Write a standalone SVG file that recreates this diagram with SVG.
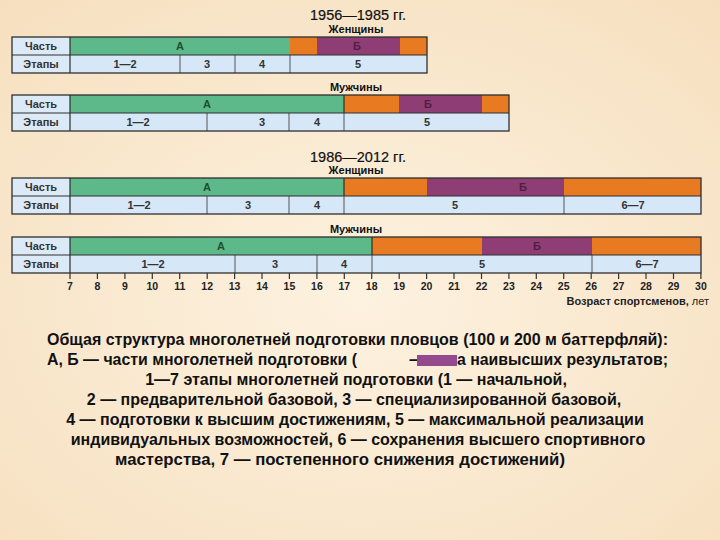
<svg xmlns="http://www.w3.org/2000/svg" width="720" height="540" viewBox="0 0 720 540">
<defs>
<radialGradient id="bg" cx="50%" cy="55%" r="75%">
<stop offset="0" stop-color="#FDF2E0"/>
<stop offset="1" stop-color="#F6DFBE"/>
</radialGradient>
<style>
.lab{fill:#DCEAF7}
.st{fill:#D6E8F8}
.g{fill:#5DB98A}
.o{fill:#E87A22}
.p{fill:#8E3E74}
.box{fill:none;stroke:#2E2E2E;stroke-width:1.3}
.hl{stroke:#2E2E2E;stroke-width:1.2}
.dv{stroke:#555;stroke-width:1}
.t{font-family:"Liberation Sans",Arial,sans-serif;font-weight:bold;font-size:11px;text-anchor:middle;fill:#333}
.ta{font-family:"Liberation Sans",Arial,sans-serif;font-weight:bold;font-size:11px;text-anchor:middle;fill:#1F4F2E}
.tb{font-family:"Liberation Sans",Arial,sans-serif;font-weight:bold;font-size:11px;text-anchor:middle;fill:#4F1E44}
.hd{font-family:"Liberation Sans",Arial,sans-serif;font-size:14.5px;text-anchor:middle;fill:#111;stroke:#111;stroke-width:0.2}
.sx{font-family:"Liberation Sans",Arial,sans-serif;font-weight:bold;font-size:11px;text-anchor:middle;fill:#111}
.ax{font-family:"Liberation Sans",Arial,sans-serif;font-weight:bold;font-size:10.5px;text-anchor:middle;fill:#222}
.tk{stroke:#333;stroke-width:1.2}
.cap{font-family:"Liberation Sans",Arial,sans-serif;font-weight:bold;font-size:16px;fill:#111}
</style>
</defs>
<rect width="720" height="540" fill="url(#bg)"/>

<g id="headers">
<text class="hd" x="358" y="20">1956—1985 гг.</text>
<text class="sx" x="356" y="33">Женщины</text>
<text class="sx" x="356" y="91">Мужчины</text>
<text class="hd" x="358" y="162">1986—2012 гг.</text>
<text class="sx" x="356" y="174">Женщины</text>
<text class="sx" x="356" y="233">Мужчины</text>
</g>

<g id="t1">
<rect class="lab" x="12" y="37" width="58" height="36"/>
<rect class="g" x="70" y="37" width="220" height="18"/>
<rect class="o" x="290" y="37" width="27" height="18"/>
<rect class="p" x="317" y="37" width="83" height="18"/>
<rect class="o" x="400" y="37" width="27" height="18"/>
<rect class="st" x="70" y="55" width="357" height="18"/>
<line class="dv" x1="180" y1="55" x2="180" y2="73"/>
<line class="dv" x1="235" y1="55" x2="235" y2="73"/>
<line class="dv" x1="290" y1="55" x2="290" y2="73"/>
<line class="hl" x1="12" y1="55" x2="427" y2="55"/>
<line class="hl" x1="70" y1="37" x2="70" y2="73"/>
<rect class="box" x="12" y="37" width="415" height="36"/>
<text class="t" x="41" y="50">Часть</text>
<text class="t" x="41" y="68">Этапы</text>
<text class="ta" x="180" y="50">А</text>
<text class="tb" x="357" y="50">Б</text>
<text class="t" x="125" y="68">1—2</text>
<text class="t" x="207" y="68">3</text>
<text class="t" x="262" y="68">4</text>
<text class="t" x="358" y="68">5</text>
</g>

<g id="t2">
<rect class="lab" x="12" y="95" width="58" height="36"/>
<rect class="g" x="70" y="95" width="274" height="18"/>
<rect class="o" x="344" y="95" width="55" height="18"/>
<rect class="p" x="399" y="95" width="83" height="18"/>
<rect class="o" x="482" y="95" width="27" height="18"/>
<rect class="st" x="70" y="113" width="439" height="18"/>
<line class="dv" x1="207" y1="113" x2="207" y2="131"/>
<line class="dv" x1="289" y1="113" x2="289" y2="131"/>
<line class="dv" x1="344" y1="113" x2="344" y2="131"/>
<line class="hl" x1="344" y1="95" x2="344" y2="113"/>
<line class="hl" x1="12" y1="113" x2="509" y2="113"/>
<line class="hl" x1="70" y1="95" x2="70" y2="131"/>
<rect class="box" x="12" y="95" width="497" height="36"/>
<text class="t" x="41" y="108">Часть</text>
<text class="t" x="41" y="126">Этапы</text>
<text class="ta" x="207" y="108">А</text>
<text class="tb" x="428" y="108">Б</text>
<text class="t" x="138" y="126">1—2</text>
<text class="t" x="262" y="126">3</text>
<text class="t" x="317" y="126">4</text>
<text class="t" x="427" y="126">5</text>
</g>

<g id="t3">
<rect class="lab" x="12" y="178" width="58" height="36"/>
<rect class="g" x="70" y="178" width="274" height="18"/>
<rect class="o" x="344" y="178" width="83" height="18"/>
<rect class="p" x="427" y="178" width="137" height="18"/>
<rect class="o" x="564" y="178" width="137" height="18"/>
<rect class="st" x="70" y="196" width="631" height="18"/>
<line class="dv" x1="207" y1="196" x2="207" y2="214"/>
<line class="dv" x1="289" y1="196" x2="289" y2="214"/>
<line class="dv" x1="344" y1="196" x2="344" y2="214"/>
<line class="dv" x1="564" y1="196" x2="564" y2="214"/>
<line class="hl" x1="344" y1="178" x2="344" y2="196"/>
<line class="hl" x1="12" y1="196" x2="701" y2="196"/>
<line class="hl" x1="70" y1="178" x2="70" y2="214"/>
<rect class="box" x="12" y="178" width="689" height="36"/>
<text class="t" x="41" y="191">Часть</text>
<text class="t" x="41" y="209">Этапы</text>
<text class="ta" x="207" y="191">А</text>
<text class="tb" x="523" y="191">Б</text>
<text class="t" x="139" y="209">1—2</text>
<text class="t" x="248" y="209">3</text>
<text class="t" x="317" y="209">4</text>
<text class="t" x="455" y="209">5</text>
<text class="t" x="633" y="209">6—7</text>
</g>

<g id="t4">
<rect class="lab" x="12" y="237" width="58" height="36"/>
<rect class="g" x="70" y="237" width="302" height="18"/>
<rect class="o" x="372" y="237" width="110" height="18"/>
<rect class="p" x="482" y="237" width="110" height="18"/>
<rect class="o" x="592" y="237" width="109" height="18"/>
<rect class="st" x="70" y="255" width="631" height="18"/>
<line class="dv" x1="235" y1="255" x2="235" y2="273"/>
<line class="dv" x1="317" y1="255" x2="317" y2="273"/>
<line class="dv" x1="372" y1="255" x2="372" y2="273"/>
<line class="dv" x1="592" y1="255" x2="592" y2="273"/>
<line class="hl" x1="372" y1="237" x2="372" y2="255"/>
<line class="hl" x1="12" y1="255" x2="701" y2="255"/>
<line class="hl" x1="70" y1="237" x2="70" y2="273"/>
<rect class="box" x="12" y="237" width="689" height="36"/>
<text class="t" x="41" y="250">Часть</text>
<text class="t" x="41" y="268">Этапы</text>
<text class="ta" x="221" y="250">А</text>
<text class="tb" x="537" y="250">Б</text>
<text class="t" x="153" y="268">1—2</text>
<text class="t" x="275" y="268">3</text>
<text class="t" x="344" y="268">4</text>
<text class="t" x="482" y="268">5</text>
<text class="t" x="647" y="268">6—7</text>
</g>

<g id="axis">
<g class="tk">
<line x1="70" y1="273" x2="70" y2="279"/><line x1="97.4" y1="273" x2="97.4" y2="279"/><line x1="124.9" y1="273" x2="124.9" y2="279"/><line x1="152.3" y1="273" x2="152.3" y2="279"/><line x1="179.7" y1="273" x2="179.7" y2="279"/><line x1="207.2" y1="273" x2="207.2" y2="279"/><line x1="234.6" y1="273" x2="234.6" y2="279"/><line x1="262" y1="273" x2="262" y2="279"/><line x1="289.4" y1="273" x2="289.4" y2="279"/><line x1="316.9" y1="273" x2="316.9" y2="279"/><line x1="344.3" y1="273" x2="344.3" y2="279"/><line x1="371.7" y1="273" x2="371.7" y2="279"/><line x1="399.2" y1="273" x2="399.2" y2="279"/><line x1="426.6" y1="273" x2="426.6" y2="279"/><line x1="454" y1="273" x2="454" y2="279"/><line x1="481.5" y1="273" x2="481.5" y2="279"/><line x1="508.9" y1="273" x2="508.9" y2="279"/><line x1="536.3" y1="273" x2="536.3" y2="279"/><line x1="563.7" y1="273" x2="563.7" y2="279"/><line x1="591.2" y1="273" x2="591.2" y2="279"/><line x1="618.6" y1="273" x2="618.6" y2="279"/><line x1="646" y1="273" x2="646" y2="279"/><line x1="673.5" y1="273" x2="673.5" y2="279"/><line x1="700.9" y1="273" x2="700.9" y2="279"/>
</g>
<text class="ax" x="70" y="290">7</text><text class="ax" x="97.4" y="290">8</text><text class="ax" x="124.9" y="290">9</text><text class="ax" x="152.3" y="290">10</text><text class="ax" x="179.7" y="290">11</text><text class="ax" x="207.2" y="290">12</text><text class="ax" x="234.6" y="290">13</text><text class="ax" x="262" y="290">14</text><text class="ax" x="289.4" y="290">15</text><text class="ax" x="316.9" y="290">16</text><text class="ax" x="344.3" y="290">17</text><text class="ax" x="371.7" y="290">18</text><text class="ax" x="399.2" y="290">19</text><text class="ax" x="426.6" y="290">20</text><text class="ax" x="454" y="290">21</text><text class="ax" x="481.5" y="290">22</text><text class="ax" x="508.9" y="290">23</text><text class="ax" x="536.3" y="290">24</text><text class="ax" x="563.7" y="290">25</text><text class="ax" x="591.2" y="290">26</text><text class="ax" x="618.6" y="290">27</text><text class="ax" x="646" y="290">28</text><text class="ax" x="673.5" y="290">29</text><text class="ax" x="700.9" y="290">30</text>
<text x="709" y="305" font-family="'Liberation Sans',Arial,sans-serif" font-weight="bold" font-size="11px" text-anchor="end" fill="#222">Возраст спортсменов, <tspan font-weight="normal">лет</tspan></text>
</g>

<g id="caption">
<text class="cap" x="47" y="345" textLength="621" lengthAdjust="spacingAndGlyphs">Общая структура многолетней подготовки пловцов (100 и 200 м баттерфляй):</text>
<text class="cap" x="47" y="365" textLength="310" lengthAdjust="spacingAndGlyphs">А, Б — части многолетней подготовки (</text>
<text class="cap" x="409" y="365">–</text>
<rect x="417" y="355" width="40" height="11" fill="#944A8C"/>
<text class="cap" x="668" y="365" text-anchor="end" textLength="211" lengthAdjust="spacingAndGlyphs">а наивысших результатов;</text>
<text class="cap" x="356" y="385" text-anchor="middle">1—7 этапы многолетней подготовки (1 — начальной,</text>
<text class="cap" x="354" y="405" text-anchor="middle">2 — предварительной базовой, 3 — специализированной базовой,</text>
<text class="cap" x="355" y="425" text-anchor="middle">4 — подготовки к высшим достижениям, 5 — максимальной реализации</text>
<text class="cap" x="358" y="445" text-anchor="middle">индивидуальных возможностей, 6 — сохранения высшего спортивного</text>
<text class="cap" x="340" y="465" text-anchor="middle" textLength="450" lengthAdjust="spacingAndGlyphs">мастерства, 7 — постепенного снижения достижений)</text>
</g>
</svg>
